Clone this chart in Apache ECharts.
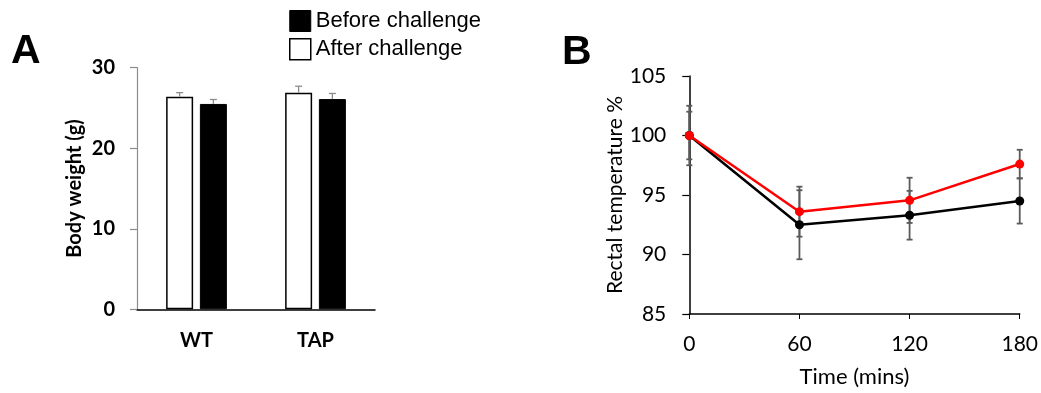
<!DOCTYPE html>
<html><head><meta charset="utf-8">
<script src="https://cdn.jsdelivr.net/npm/echarts@6/dist/echarts.min.js"></script>
<style>html,body{margin:0;padding:0;background:#fff}#c{width:1041px;height:393px}</style>
</head><body><div id="c"></div>
<script>
// ---- Panel A data ----
const categoriesA = ['WT', 'TAP'];
const afterA = [26.4, 26.9];
const afterErrA = [0.5, 0.8];
const beforeA = [25.5, 26.1];
const beforeErrA = [0.55, 0.7];
// ---- Panel B data ----
const timesB = [0, 60, 120, 180];
const blackB = [100, 92.5, 93.3, 94.5];
const blackErrB = [2.5, 2.9, 2.05, 1.9];
const redB = [100, 93.6, 94.55, 97.6];
const redErrB = [2.0, 2.1, 1.9, 1.2];

const BAR_W = 27, BAR_GAP = 6.75;
const FONT = 'Lato';

const errDataA = [];
categoriesA.forEach((c, i) => {
  errDataA.push([i, afterA[i], afterErrA[i], 0]);
  errDataA.push([i, beforeA[i], beforeErrA[i], 1]);
});
const errDataB = [];
timesB.forEach((t, i) => {
  errDataB.push([t, blackB[i], blackErrB[i]]);
  errDataB.push([t, redB[i], redErrB[i]]);
});

function renderErrA(params, api) {
  const ci = api.value(0), v = api.value(1), e = api.value(2), slot = api.value(3);
  const off = (slot === 0 ? -1 : 1) * (BAR_W + BAR_GAP) / 2;
  const top = api.coord([ci, v + e]);
  const mid = api.coord([ci, v]);
  const x = top[0] + off;
  const st = { stroke: '#8c8c8c', lineWidth: 1.3 };
  return { type: 'group', children: [
    { type: 'line', shape: { x1: x, y1: mid[1], x2: x, y2: top[1] }, style: st },
    { type: 'line', shape: { x1: x - 3.5, y1: top[1], x2: x + 3.5, y2: top[1] }, style: st }
  ]};
}
function renderErrB(params, api) {
  const t = api.value(0), v = api.value(1), e = api.value(2);
  const hi = api.coord([t, v + e]);
  const lo = api.coord([t, v - e]);
  const x = hi[0];
  const st = { stroke: '#5a5a5a', lineWidth: 1.8 };
  return { type: 'group', children: [
    { type: 'line', shape: { x1: x, y1: lo[1], x2: x, y2: hi[1] }, style: st },
    { type: 'line', shape: { x1: x - 3, y1: hi[1], x2: x + 3, y2: hi[1] }, style: st },
    { type: 'line', shape: { x1: x - 3, y1: lo[1], x2: x + 3, y2: lo[1] }, style: st }
  ]};
}

const chart = echarts.init(document.getElementById('c'), null, { renderer: 'canvas' });
chart.setOption({
  animation: false,
  backgroundColor: '#fff',
  graphic: [
    { type: 'text', x: 11, y: 31, style: { text: 'A', font: 'bold 41px "Liberation Sans"', fill: '#000' } },
    { type: 'text', x: 562, y: 32, style: { text: 'B', font: 'bold 41px "Liberation Sans"', fill: '#000' } }
  ],
  legend: {
    left: 289, top: 10, orient: 'vertical', padding: 0,
    itemWidth: 21, itemHeight: 21, itemGap: 6, selectedMode: false,
    textStyle: { fontFamily: 'Liberation Sans', fontSize: 22, color: '#000' },
    data: [
      { name: 'Before challenge', icon: 'rect', itemStyle: { color: '#000', borderColor: '#000', borderWidth: 1 } },
      { name: 'After challenge', icon: 'rect', itemStyle: { color: '#fff', borderColor: '#000', borderWidth: 1.5 } }
    ]
  },
  grid: [
    { left: 137, top: 67.7, width: 238, height: 241.6 },
    { left: 689.3, top: 76, width: 332.7, height: 238 }
  ],
  xAxis: [
    { type: 'category', gridIndex: 0, data: categoriesA,
      axisLine: { lineStyle: { color: '#000', width: 1.5 } },
      axisTick: { show: false },
      axisLabel: { margin: 21, fontFamily: FONT, fontSize: 20, fontWeight: 'bold', color: '#000' } },
    { type: 'value', gridIndex: 1, min: 0, max: 180, interval: 60,
      axisLine: { lineStyle: { color: '#000', width: 1.5 } },
      axisTick: { show: true, length: 5, lineStyle: { color: '#000', width: 1 } },
      splitLine: { show: false },
      axisLabel: { margin: 20, fontFamily: FONT, fontSize: 21, color: '#000' },
      name: 'Time (mins)', nameLocation: 'middle', nameGap: 52,
      nameTextStyle: { fontFamily: FONT, fontSize: 22, color: '#000' } }
  ],
  yAxis: [
    { type: 'value', gridIndex: 0, min: 0, max: 30, interval: 10,
      axisLine: { show: true, lineStyle: { color: '#8c8c8c', width: 1.2 } },
      axisTick: { show: true, length: 7, lineStyle: { color: '#8c8c8c', width: 1.2 } },
      splitLine: { show: false },
      axisLabel: { margin: 22, fontFamily: FONT, fontSize: 20, fontWeight: 'bold', color: '#000' },
      name: 'Body weight (g)', nameLocation: 'middle', nameGap: 52, nameRotate: 90,
      nameTextStyle: { fontFamily: FONT, fontSize: 20, fontWeight: 'bold', color: '#000' } },
    { type: 'value', gridIndex: 1, min: 85, max: 105, interval: 5,
      axisLine: { show: true, lineStyle: { color: '#000', width: 1.5 } },
      axisTick: { show: true, length: 7, lineStyle: { color: '#000', width: 1.2 } },
      splitLine: { show: false },
      axisLabel: { margin: 23, fontFamily: FONT, fontSize: 21, color: '#000' },
      name: 'Rectal temperature %', nameLocation: 'middle', nameGap: 64, nameRotate: 90,
      nameTextStyle: { fontFamily: FONT, fontSize: 21, color: '#000' } }
  ],
  series: [
    { type: 'bar', name: 'After challenge', xAxisIndex: 0, yAxisIndex: 0, data: afterA,
      barWidth: BAR_W, barGap: '25%',
      itemStyle: { color: '#fff', borderColor: '#000', borderWidth: 1.5 } },
    { type: 'bar', name: 'Before challenge', xAxisIndex: 0, yAxisIndex: 0, data: beforeA,
      barWidth: BAR_W,
      itemStyle: { color: '#000', borderColor: '#000', borderWidth: 1 } },
    { type: 'custom', name: 'errA', xAxisIndex: 0, yAxisIndex: 0, z: 3,
      renderItem: renderErrA, data: errDataA },
    { type: 'custom', name: 'errB', xAxisIndex: 1, yAxisIndex: 1, z: 2,
      renderItem: renderErrB, data: errDataB },
    { type: 'line', name: 'Group 1', xAxisIndex: 1, yAxisIndex: 1, z: 4,
      data: timesB.map((t, i) => [t, blackB[i]]),
      symbol: 'circle', symbolSize: 9, color: '#000',
      lineStyle: { color: '#000', width: 2.5 }, itemStyle: { color: '#000' } },
    { type: 'line', name: 'Group 2', xAxisIndex: 1, yAxisIndex: 1, z: 5,
      data: timesB.map((t, i) => [t, redB[i]]),
      symbol: 'circle', symbolSize: 9, color: '#ff0000',
      lineStyle: { color: '#ff0000', width: 2.5 }, itemStyle: { color: '#ff0000' } }
  ]
});
</script></body></html>
